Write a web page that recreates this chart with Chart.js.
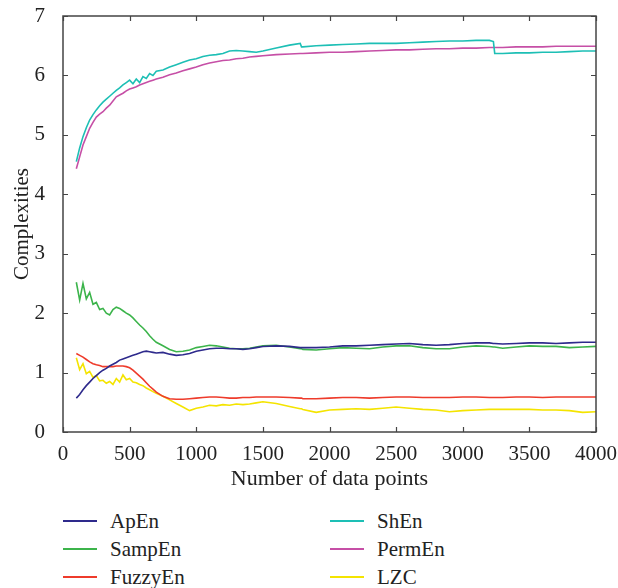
<!DOCTYPE html>
<html>
<head>
<meta charset="utf-8">
<script src="https://cdn.jsdelivr.net/npm/chart.js@4/dist/chart.umd.min.js"></script>
<style>
  html, body { margin: 0; padding: 0; background: #fff; }
  #wrap { position: relative; width: 618px; height: 588px; }
  #c { position: absolute; left: 0; top: 0; }
  .lg { position: absolute; font-family: "Liberation Serif", "Times New Roman", serif; font-size: 21px; color: #222; display: flex; align-items: center; }
  .lg span.ln { display: inline-block; width: 34px; height: 2px; margin-right: 13px; }
</style>
</head>
<body>
<div id="wrap">
  <canvas id="c" width="618" height="500"></canvas>
  <div id="legend"></div>
</div>
<script>
// ---------- DATA ----------
const xs = [100,125,150,175,200,225,250,275,300,325,350,375,400,425,450,475,500,525,550,575,600,625,650,675,700,
  750,800,850,900,950,1000,1050,1100,1150,1200,1250,1300,1350,1400,1450,1500,
  1600,1700,1780,1790,1800,1900,2000,2100,2200,2300,2400,2500,2600,2700,2800,2900,3000,3100,3200,3230,3240,
  3300,3400,3500,3600,3700,3800,3900,4000];

const apEn = [0.57,0.63,0.71,0.78,0.84,0.90,0.95,1.00,1.04,1.07,1.11,1.14,1.17,1.21,1.23,1.25,1.27,1.29,1.31,1.33,1.35,1.36,1.35,1.34,1.33,
  1.34,1.31,1.29,1.30,1.32,1.36,1.38,1.40,1.41,1.41,1.40,1.40,1.39,1.40,1.42,1.44,
  1.45,1.44,1.42,1.42,1.42,1.42,1.43,1.45,1.45,1.46,1.47,1.48,1.49,1.47,1.46,1.47,1.49,1.50,1.50,1.49,1.49,
  1.48,1.49,1.50,1.50,1.49,1.50,1.51,1.51];

const sampEn = [2.52,2.22,2.50,2.24,2.35,2.15,2.18,2.06,2.08,2.00,1.97,2.06,2.10,2.08,2.04,2.00,1.97,1.92,1.86,1.80,1.75,1.69,1.62,1.56,1.51,
  1.45,1.39,1.35,1.36,1.38,1.42,1.44,1.46,1.45,1.43,1.41,1.40,1.40,1.41,1.43,1.45,
  1.46,1.43,1.40,1.40,1.39,1.38,1.40,1.42,1.41,1.40,1.43,1.45,1.45,1.42,1.40,1.40,1.43,1.45,1.44,1.43,1.43,
  1.41,1.43,1.45,1.44,1.44,1.42,1.43,1.44];

const fuzzyEn = [1.32,1.29,1.26,1.22,1.18,1.15,1.13,1.12,1.10,1.10,1.10,1.10,1.11,1.11,1.11,1.10,1.08,1.04,0.99,0.94,0.89,0.83,0.77,0.72,0.67,
  0.60,0.56,0.55,0.55,0.56,0.57,0.58,0.59,0.59,0.58,0.57,0.57,0.58,0.58,0.59,0.59,
  0.59,0.58,0.57,0.57,0.56,0.56,0.57,0.58,0.58,0.57,0.58,0.59,0.59,0.58,0.58,0.58,0.59,0.59,0.58,0.58,0.58,
  0.58,0.59,0.59,0.58,0.59,0.59,0.59,0.59];

const shEn = [4.55,4.78,4.97,5.12,5.25,5.34,5.42,5.49,5.55,5.60,5.65,5.70,5.75,5.79,5.84,5.88,5.92,5.86,5.94,5.88,5.98,5.95,6.03,6.00,6.07,
  6.09,6.14,6.18,6.22,6.26,6.28,6.32,6.34,6.35,6.37,6.41,6.42,6.41,6.40,6.39,6.41,
  6.46,6.51,6.54,6.48,6.48,6.50,6.51,6.52,6.53,6.54,6.54,6.54,6.55,6.56,6.57,6.58,6.58,6.59,6.59,6.57,6.37,
  6.37,6.38,6.38,6.39,6.39,6.40,6.41,6.41];

const permEn = [4.43,4.63,4.83,4.97,5.11,5.21,5.30,5.35,5.39,5.45,5.50,5.57,5.64,5.67,5.70,5.74,5.77,5.79,5.81,5.84,5.86,5.88,5.90,5.92,5.94,
  5.97,6.01,6.04,6.08,6.11,6.14,6.18,6.21,6.23,6.25,6.26,6.28,6.29,6.31,6.32,6.33,
  6.35,6.36,6.37,6.37,6.37,6.38,6.39,6.39,6.40,6.41,6.42,6.43,6.43,6.44,6.45,6.45,6.46,6.46,6.47,6.47,6.47,
  6.47,6.48,6.48,6.48,6.49,6.49,6.49,6.49];

const lzc = [1.25,1.05,1.15,0.98,1.02,0.92,0.95,0.86,0.87,0.82,0.85,0.80,0.90,0.84,0.96,0.88,0.90,0.84,0.83,0.80,0.78,0.74,0.71,0.68,0.65,
  0.60,0.54,0.48,0.42,0.36,0.40,0.42,0.45,0.44,0.46,0.45,0.47,0.46,0.47,0.49,0.51,
  0.48,0.43,0.39,0.39,0.38,0.33,0.37,0.38,0.39,0.38,0.40,0.42,0.40,0.38,0.37,0.34,0.36,0.37,0.38,0.38,0.38,
  0.38,0.38,0.38,0.37,0.37,0.36,0.33,0.34];

const seriesNames = ["ApEn","SampEn","FuzzyEn","ShEn","PermEn","LZC"];
const seriesValues = [apEn, sampEn, fuzzyEn, shEn, permEn, lzc];
const seriesColors = ["#2e2a8c","#3cb44b","#ee3b2b","#1dbfb5","#c64fa6","#f4e400"];
const xTicks = [0,500,1000,1500,2000,2500,3000,3500,4000];
const yTicks = [0,1,2,3,4,5,6,7];

// ---------- CHART ----------
const FONT = "'Liberation Serif', 'Times New Roman', serif";

const framePlugin = {
  id: 'frame',
  afterDraw(chart) {
    const ctx = chart.ctx, a = chart.chartArea;
    const xs_ = chart.scales.x, ys_ = chart.scales.y;
    ctx.save();
    ctx.strokeStyle = '#444';
    ctx.lineWidth = 1.5;
    ctx.strokeRect(a.left, a.top, a.right - a.left, a.bottom - a.top);
    ctx.lineWidth = 1.2;
    ctx.beginPath();
    const L = 5;
    xTicks.forEach(v => {
      const p = Math.round(xs_.getPixelForValue(v)) + 0.5;
      ctx.moveTo(p, a.bottom); ctx.lineTo(p, a.bottom - L);
      ctx.moveTo(p, a.top); ctx.lineTo(p, a.top + L);
    });
    yTicks.forEach(v => {
      const p = Math.round(ys_.getPixelForValue(v)) + 0.5;
      ctx.moveTo(a.left, p); ctx.lineTo(a.left + L, p);
      ctx.moveTo(a.right, p); ctx.lineTo(a.right - L, p);
    });
    ctx.stroke();
    ctx.restore();
  }
};

new Chart(document.getElementById('c'), {
  type: 'line',
  data: {
    datasets: seriesNames.map((n, i) => ({
      label: n,
      data: xs.map((x, j) => ({ x: x, y: seriesValues[i][j] })),
      borderColor: seriesColors[i],
      borderWidth: 1.6,
      pointRadius: 0,
      tension: 0,
      fill: false
    }))
  },
  options: {
    responsive: false,
    animation: false,
    devicePixelRatio: 1,
    layout: { padding: { top: 16, right: 22, left: 0, bottom: 0 } },
    plugins: { legend: { display: false }, tooltip: { enabled: false } },
    scales: {
      x: {
        type: 'linear', min: 0, max: 4000,
        afterBuildTicks: s => { s.ticks = xTicks.map(v => ({ value: v })); },
        ticks: { font: { family: FONT, size: 21 }, color: '#222', padding: 2, maxRotation: 0, callback: v => String(v) },
        grid: { display: false },
        border: { display: false },
        title: { display: true, text: 'Number of data points', font: { family: FONT, size: 22 }, color: '#222', padding: { top: 0, bottom: 8 } },
        afterFit: s => { s.height = 68; s.paddingLeft = 0; s.paddingRight = 0; }
      },
      y: {
        type: 'linear', min: 0, max: 7,
        afterBuildTicks: s => { s.ticks = yTicks.map(v => ({ value: v })); },
        ticks: { font: { family: FONT, size: 21 }, color: '#222', padding: 10, callback: v => String(v) },
        grid: { display: false },
        border: { display: false },
        title: { display: true, text: 'Complexities', font: { family: FONT, size: 21 }, color: '#222', padding: { top: 10, bottom: 0 } },
        afterFit: s => { s.width = 63; s.paddingTop = 0; s.paddingBottom = 0; }
      }
    }
  },
  plugins: [framePlugin]
});

// ---------- LEGEND (HTML) ----------
const lg = document.getElementById('legend');
const colX = [63, 330], rowY = [521, 549, 577];
seriesNames.forEach((n, i) => {
  const col = Math.floor(i / 3), row = i % 3;
  const d = document.createElement('div');
  d.className = 'lg';
  d.style.left = colX[col] + 'px';
  d.style.top = (rowY[row] - 13) + 'px';
  d.style.height = '26px';
  d.innerHTML = '<span class="ln" style="background:' + seriesColors[i] + '"></span>' + n;
  lg.appendChild(d);
});
</script>
</body>
</html>
